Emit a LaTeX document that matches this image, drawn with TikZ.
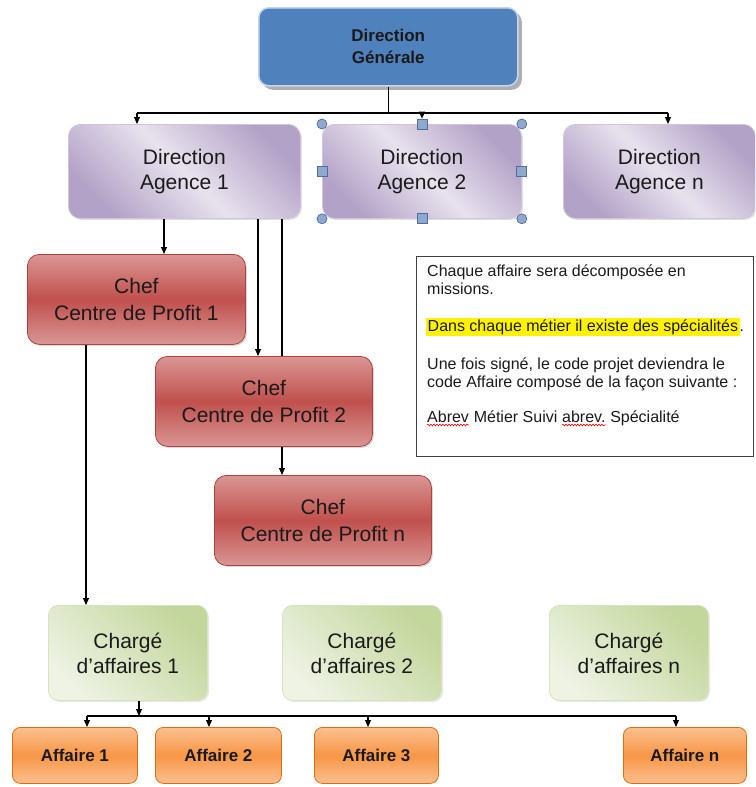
\documentclass[tikz,border=0pt]{standalone}
\usepackage{fontspec}
\setmainfont{Liberation Sans}
\usetikzlibrary{shadows,arrows.meta,decorations.pathmorphing}
\definecolor{dgblue}{HTML}{4F81BD}
\definecolor{dgedge}{HTML}{C6D6EA}
\definecolor{lavdark}{HTML}{B3A2C7}
\definecolor{lavlight}{HTML}{E8E2EE}
\definecolor{lavedge}{HTML}{CFC5DC}
\definecolor{redtop}{HTML}{DA9694}
\definecolor{redmid}{HTML}{C0504D}
\definecolor{redbot}{HTML}{D99694}
\definecolor{rededge}{HTML}{B0413E}
\definecolor{grdark}{HTML}{C3D69B}
\definecolor{grlight}{HTML}{EEF3E4}
\definecolor{gredge}{HTML}{D7E4BD}
\definecolor{ortop}{HTML}{FAC090}
\definecolor{ormid}{HTML}{F79646}
\definecolor{oredge}{HTML}{E46C0A}
\definecolor{hfill}{HTML}{8FA8CF}
\definecolor{hedge}{HTML}{4F6E9E}
\definecolor{txt}{HTML}{1A1A1A}
\tikzset{
  box/.style={rectangle, inner sep=0pt, anchor=north west, align=center, text=txt},
  dgbox/.style={box, rounded corners=10pt, fill=dgblue, draw=dgedge, line width=1.5pt,
    font=\bfseries\fontsize{17}{22}\selectfont,
    drop shadow={shadow xshift=4pt, shadow yshift=-4pt, opacity=0.45, fill=black!70}},
  agbox/.style={box, rounded corners=12pt, draw=lavedge, line width=0.8pt,
    top color=lavdark, bottom color=lavdark, middle color=lavlight, shading angle=-45,
    font=\fontsize{21}{25}\selectfont, minimum height=94pt,
    drop shadow={shadow xshift=1.5pt, shadow yshift=-1.5pt, opacity=0.25}},
  chbox/.style={box, rounded corners=12pt, draw=rededge, line width=0.8pt,
    top color=redtop, bottom color=redbot, middle color=redmid,
    font=\fontsize{21}{27}\selectfont, minimum width=217pt, minimum height=90pt,
    drop shadow={shadow xshift=1.5pt, shadow yshift=-1.5pt, opacity=0.3}},
  grbox/.style={box, rounded corners=10pt, draw=gredge, line width=0.8pt,
    top color=grdark, bottom color=grlight, shading angle=-45,
    font=\fontsize{21}{25}\selectfont, minimum width=159pt, minimum height=95pt,
    drop shadow={shadow xshift=1.5pt, shadow yshift=-1.5pt, opacity=0.2}},
  orbox/.style={box, rounded corners=8pt, draw=oredge, line width=0.8pt,
    top color=ortop, bottom color=ortop, middle color=ormid,
    font=\bfseries\fontsize{17}{20}\selectfont, minimum height=56pt},
  hcirc/.style={circle, minimum size=10pt, inner sep=0pt, fill=hfill, draw=hedge, line width=0.7pt},
  hsq/.style={rectangle, minimum size=10pt, inner sep=0pt, fill=hfill, draw=hedge, line width=0.7pt},
  notebox/.style={rectangle, draw=black!75, line width=1.3pt, inner sep=0pt, anchor=north west},
  notetext/.style={anchor=base west, inner sep=0pt, text=txt, font=\fontsize{16}{18}\selectfont},
  wave/.style={draw=red, line width=0.6pt, decorate, decoration={snake, amplitude=0.9pt, segment length=3pt}},
  conn/.style={draw=black, line width=1.1pt},
  arr/.style={conn, -{Triangle[length=7pt,width=6pt]}}
}
\begin{document}
\begin{tikzpicture}[x=1pt, y=-1pt]
\useasboundingbox (0,0) rectangle (755,787);
\clip (0,0) rectangle (755,787);
% nodes
\node[dgbox, minimum width=259pt, minimum height=78pt] (dg) at (258,7) {Direction\\Générale};
\node[agbox, minimum width=232pt] (a1) at (68,124) {Direction\\Agence 1};
\node[agbox, minimum width=199pt] (a2) at (322,124) {Direction\\Agence 2};
\node[agbox, minimum width=192pt] (an) at (563,124) {Direction\\Agence n};
\node[chbox, minimum width=218pt] (c1) at (27,254) {Chef\\Centre de Profit 1};
\node[chbox] (c2) at (155,356) {Chef\\Centre de Profit 2};
\node[chbox] (cn) at (214,475) {Chef\\Centre de Profit n};
\node[grbox] (g1) at (48,605) {Chargé\\d'affaires 1};
\node[grbox] (g2) at (282,605) {Chargé\\d'affaires 2};
\node[grbox] (gn) at (549,605) {Chargé\\d'affaires n};
\node[orbox, minimum width=125pt] (f1) at (12,727) {Affaire 1};
\node[orbox, minimum width=126pt] (f2) at (155,727) {Affaire 2};
\node[orbox, minimum width=124pt] (f3) at (314,727) {Affaire 3};
\node[orbox, minimum width=123pt] (fn) at (623,727) {Affaire n};
% selection handles on a2
\node[hcirc] (h1) at (a2.north west) {};
\node[hcirc] (h2) at (a2.north east) {};
\node[hcirc] (h3) at (a2.south west) {};
\node[hcirc] (h4) at (a2.south east) {};
\node[hsq] (h5) at (a2.north) {};
\node[hsq] (h6) at (a2.south) {};
\node[hsq] (h7) at (a2.west) {};
\node[hsq] (h8) at (a2.east) {};
% note
\node[notebox, minimum width=337pt, minimum height=200pt] (note) at (416,256) {};
\node[notetext] (n1) at (427,276) {Chaque affaire sera décomposée en};
\node[notetext] (n2) at (427,294) {missions.};
\node[notetext] (n3) at (426,331) {\setlength{\fboxsep}{1.5pt}\colorbox{yellow}{Dans chaque métier il existe des spécialités}.};
\node[notetext] (n4) at (427,369) {Une fois signé, le code projet  deviendra le};
\node[notetext] (n5) at (427,387) {code Affaire composé de la façon suivante :};
\node[notetext] (n6a) at (427,422) {Abrev};
\node[notetext] (n6b) at ([xshift=4.4pt]n6a.base east) {Métier Suivi};
\node[notetext] (n6c) at ([xshift=4.4pt]n6b.base east) {abrev.};
\node[notetext] (n6d) at ([xshift=4.4pt]n6c.base east) {Spécialité};
\draw[wave] ([yshift=-3pt]n6a.base west) -- ([yshift=-3pt]n6a.base east);
\draw[wave] ([yshift=-3pt]n6c.base west) -- ([yshift=-3pt]n6c.base east);
% connector coordinates
\coordinate (t1) at (137,113);
\coordinate (t2) at (422,113);
\coordinate (t3) at (668,113);
\coordinate (v1) at (164,0);
\coordinate (v2) at (258,0);
\coordinate (v3) at (282,0);
\coordinate (v4) at (86,0);
\coordinate (v5) at (139,716);
\coordinate (w1) at (87,716);
\coordinate (w2) at (209,716);
\coordinate (w3) at (368,716);
\coordinate (w4) at (676,716);
% connectors
\draw[conn] (dg.south) -- (dg.south |- t1);
\draw[conn] (t1) -- (t3);
\draw[arr] (t1) -- (t1 |- a1.north);
\draw[arr] (t2) -- (t2 |- h5.north);
\draw[arr] (t3) -- (t3 |- an.north);
\draw[arr] (v1 |- a1.south) -- (v1 |- c1.north);
\draw[arr] (v2 |- a1.south) -- (v2 |- c2.north);
\draw[conn] (v3 |- a1.south) -- (v3 |- c2.north);
\draw[arr] (v3 |- c2.south) -- (v3 |- cn.north);
\draw[arr] (v4 |- c1.south) -- (v4 |- g1.north);
\draw[arr] (v5 |- g1.south) -- (v5);
\draw[conn] (w1) -- (w4);
\draw[arr] (w1) -- (w1 |- f1.north);
\draw[arr] (w2) -- (w2 |- f2.north);
\draw[arr] (w3) -- (w3 |- f3.north);
\draw[arr] (w4) -- (w4 |- fn.north);
\end{tikzpicture}
\end{document}
